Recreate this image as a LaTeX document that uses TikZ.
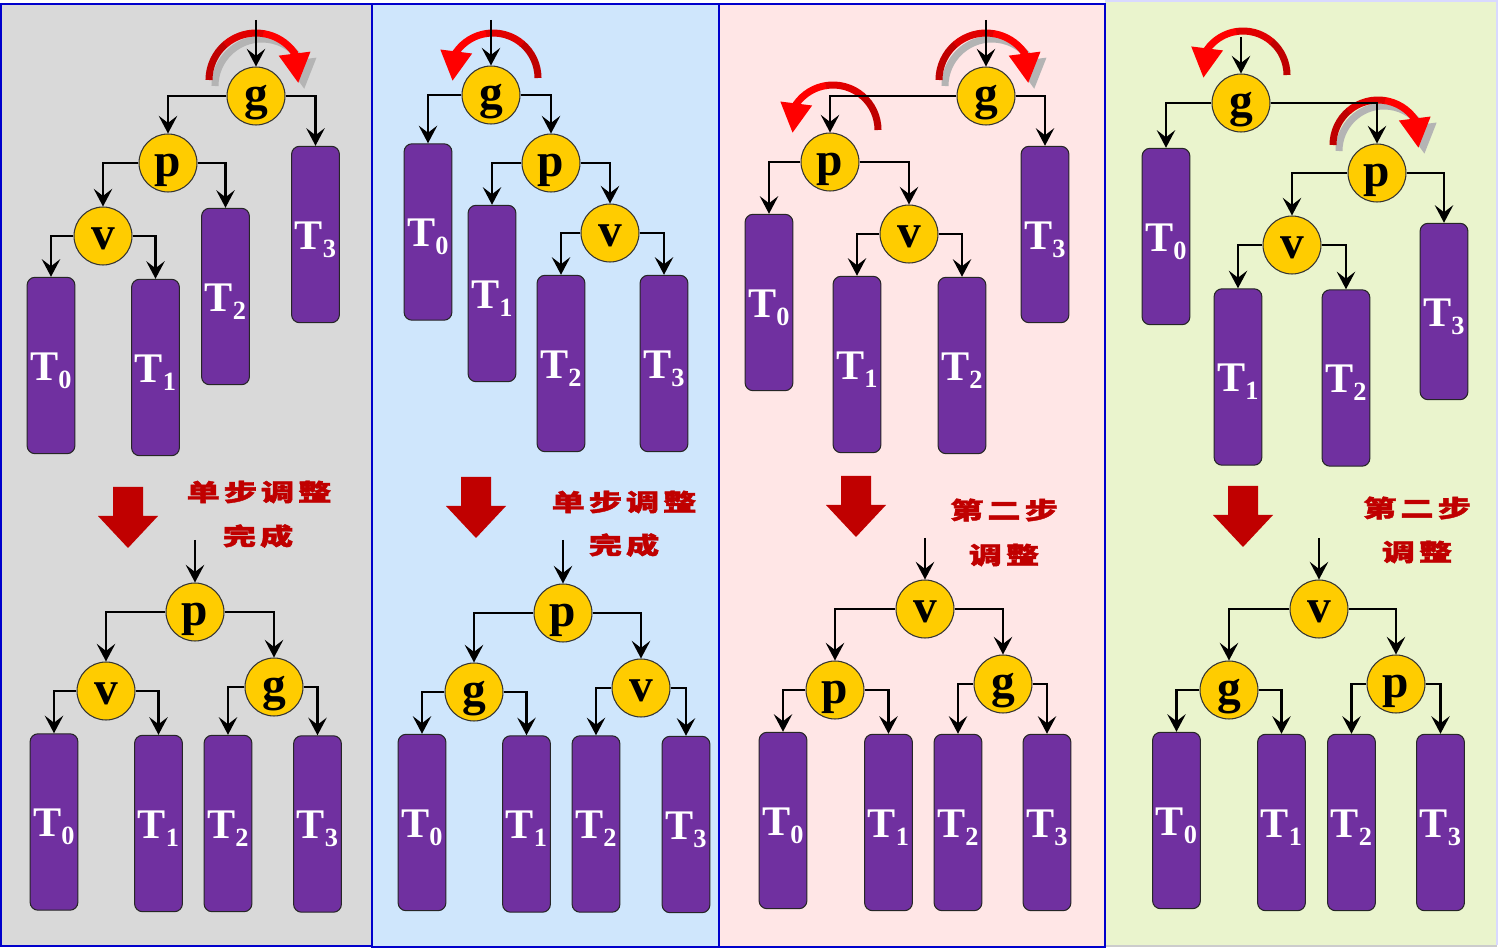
\documentclass[tikz,border=0pt]{standalone}
\usepackage{fontspec}
\usepackage{graphicx}
\setmainfont{Liberation Serif}
\newfontfamily\cjk[LetterSpace=12, BoldFeatures={FakeBold=1.6}]{Noto Sans CJK SC}
\usetikzlibrary{arrows.meta}
\definecolor{pgray}{HTML}{D9D9D9}
\definecolor{pblue}{HTML}{CFE6FC}
\definecolor{ppink}{HTML}{FFE6E6}
\definecolor{pgreen}{HTML}{EAF4CD}
\definecolor{nodeY}{HTML}{FFCC00}
\definecolor{treeP}{HTML}{7030A0}
\definecolor{bigred}{HTML}{C00000}
\definecolor{bord}{HTML}{0000CC}
\definecolor{redA}{HTML}{C00000}
\definecolor{redB}{HTML}{E00000}
\definecolor{redC}{HTML}{FF0000}
\definecolor{shad}{HTML}{B4B4B4}
\newcommand\Tlab[1]{T\raisebox{-4.5pt}{\fontsize{15}{15}\selectfont #1}}
\newcommand\BigDown[2]{\fill[bigred] (#1-15,#2) -- (#1+15,#2) -- (#1+15,#2+29) -- (#1+30,#2+29) -- (#1,#2+61) -- (#1-30,#2+29) -- (#1-15,#2+29) -- cycle;}
% clockwise: left end over the top to an arrowhead on the right
\newcommand\RotCW[3]{%
 \draw[rotshadow] (#1+6,#2+6) ++(180:#3) arc[start angle=180,end angle=325,radius=#3] -- (#1+6+0.9*#3,#2+6+0.07*#3);
 \draw[rotA] (#1,#2) ++(180:#3) arc[start angle=180,end angle=230,radius=#3];
 \draw[rotB] (#1,#2) ++(229:#3) arc[start angle=229,end angle=280,radius=#3];
 \draw[rotC] (#1,#2) ++(279:#3) arc[start angle=279,end angle=325,radius=#3] -- (#1+0.9*#3,#2+0.07*#3);}
% counter-clockwise: right end over the top to an arrowhead on the left
\newcommand\RotCCW[3]{%
 \draw[rotA] (#1,#2) ++(0:#3) arc[start angle=0,end angle=-50,radius=#3];
 \draw[rotB] (#1,#2) ++(-49:#3) arc[start angle=-49,end angle=-100,radius=#3];
 \draw[rotC] (#1,#2) ++(-99:#3) arc[start angle=-99,end angle=-145,radius=#3] -- (#1-0.9*#3,#2+0.07*#3);}
\begin{document}
\begin{tikzpicture}[x=0.02cm,y=-0.02cm,
  circ/.style={circle, fill=nodeY, draw=black!80, line width=0.6pt, minimum size=33pt, inner sep=0pt,
    font=\bfseries\fontsize{27}{27}\selectfont, text height=15pt, text depth=0pt},
  tree/.style={rectangle, rounded corners=4.5pt, fill=treeP, draw=black!85, line width=0.6pt,
    minimum width=27.2pt, minimum height=100.4pt, inner sep=0pt, text=white,
    font=\bfseries\fontsize{24}{24}\selectfont, text height=17pt, text depth=0pt},
  conn/.style={line width=1.6pt, -{Stealth[length=10pt,width=10.5pt,inset=4pt]}},
  rotshadow/.style={draw=shad, line width=4pt, -{Triangle[length=17pt,width=17pt]}},
  rotA/.style={draw=redA, line width=4pt},
  rotB/.style={draw=redB, line width=4pt},
  rotC/.style={draw=redC, line width=4pt, -{Triangle[length=17pt,width=17pt]}},
  lab/.style={text=bigred, font=\cjk\bfseries\fontsize{18}{18}\selectfont, inner sep=0pt}
]
\useasboundingbox (0,0) rectangle (1499,949);
\fill[white] (0,0) rectangle (1499,949);
% panels
\fill[pgreen] (1105,1) rectangle (1497,945);
\draw[draw=blue!15, line width=1pt] (1105,1) -- (1497,1) -- (1497,945);
\draw[draw=black!20, line width=1pt] (1105,946) -- (1497,946);
\filldraw[fill=pgray, draw=bord, line width=1.1pt] (1,4) rectangle (372,946);
\filldraw[fill=pblue, draw=bord, line width=1.1pt] (372,4) rectangle (719,947);
\filldraw[fill=ppink, draw=bord, line width=1.1pt] (719,4) rectangle (1105,947);

% rotation arrows
\RotCW{256}{80}{47}
\RotCCW{493}{78}{45}
\RotCW{986}{80}{47}
\RotCCW{833}{130}{45}
\RotCCW{1243}{75}{44}
\RotCW{1378}{145}{45}

% big down arrows
\BigDown{128}{487}
\BigDown{476}{477}
\BigDown{856}{476}
\BigDown{1243}{486}

% labels
\node[lab] (l1a) at (259,492) {\scalebox{1.05}[0.75]{单步调整}};
\node[lab] (l1b) at (258,536) {\scalebox{1.05}[0.75]{完成}};
\node[lab] (l2a) at (624,502) {\scalebox{1.05}[0.75]{单步调整}};
\node[lab] (l2b) at (624,545) {\scalebox{1.05}[0.75]{完成}};
\node[lab] (l3a) at (1004,510) {\scalebox{1.05}[0.75]{第二步}};
\node[lab] (l3b) at (1004,555) {\scalebox{1.05}[0.75]{调整}};
\node[lab] (l4a) at (1417,508) {\scalebox{1.05}[0.75]{第二步}};
\node[lab] (l4b) at (1417,552) {\scalebox{1.05}[0.75]{调整}};

% ---------- panel 1 top
\node[circ] (g1) at (256,96) {g};
\node[circ] (p1) at (168,163) {p};
\node[circ] (v1) at (103,236) {v};
\node[tree] (a0) at (51,365.5) {\Tlab0};
\node[tree] (a1) at (155.5,367.5) {\Tlab1};
\node[tree] (a2) at (225.5,296.5) {\Tlab2};
\node[tree] (a3) at (315.5,234.5) {\Tlab3};
\coordinate (ia) at (256,20);
\draw[conn] (ia) -- (g1);
\draw[conn] (g1.west) -| (p1.north);
\draw[conn] (g1.east) -| (a3.north);
\draw[conn] (p1.west) -| (v1.north);
\draw[conn] (p1.east) -| (a2.north);
\draw[conn] (v1.west) -| (a0.north);
\draw[conn] (v1.east) -| (a1.north);
% ---------- panel 1 bottom
\node[circ] (pb1) at (195,612) {p};
\node[circ] (vb1) at (106,691) {v};
\node[circ] (gb1) at (274,687) {g};
\node[tree] (b0) at (54,822) {\Tlab0};
\node[tree] (b1) at (158.5,823.5) {\Tlab1};
\node[tree] (b2) at (228,823.5) {\Tlab2};
\node[tree] (b3) at (317.5,824) {\Tlab3};
\coordinate (ib) at (195,540);
\draw[conn] (ib) -- (pb1);
\draw[conn] (pb1.west) -| (vb1.north);
\draw[conn] (pb1.east) -| (gb1.north);
\draw[conn] (vb1.west) -| (b0.north);
\draw[conn] (vb1.east) -| (b1.north);
\draw[conn] (gb1.west) -| (b2.north);
\draw[conn] (gb1.east) -| (b3.north);

% ---------- panel 2 top
\node[circ] (g2) at (491,95) {g};
\node[circ] (p2) at (551,163) {p};
\node[circ] (v2) at (610,233) {v};
\node[tree] (c0) at (428,232) {\Tlab0};
\node[tree] (c1) at (492,293.5) {\Tlab1};
\node[tree] (c2) at (561,363.5) {\Tlab2};
\node[tree] (c3) at (664,363.5) {\Tlab3};
\coordinate (ic) at (491,20);
\draw[conn] (ic) -- (g2);
\draw[conn] (g2.west) -| (c0.north);
\draw[conn] (g2.east) -| (p2.north);
\draw[conn] (p2.west) -| (c1.north);
\draw[conn] (p2.east) -| (v2.north);
\draw[conn] (v2.west) -| (c2.north);
\draw[conn] (v2.east) -| (c3.north);
% ---------- panel 2 bottom
\node[circ] (pb2) at (563,613) {p};
\node[circ] (gb2) at (474,692) {g};
\node[circ] (vb2) at (641,688) {v};
\node[tree] (d0) at (422,822.5) {\Tlab0};
\node[tree] (d1) at (526.5,824) {\Tlab1};
\node[tree] (d2) at (596,824) {\Tlab2};
\node[tree] (d3) at (686,824.5) {\Tlab3};
\coordinate (id) at (563,540);
\draw[conn] (id) -- (pb2);
\draw[conn] (pb2.west) -| (gb2.north);
\draw[conn] (pb2.east) -| (vb2.north);
\draw[conn] (gb2.west) -| (d0.north);
\draw[conn] (gb2.east) -| (d1.north);
\draw[conn] (vb2.west) -| (d2.north);
\draw[conn] (vb2.east) -| (d3.north);

% ---------- panel 3 top
\node[circ] (g3) at (986,96) {g};
\node[circ] (p3) at (830,162) {p};
\node[circ] (v3) at (909,234) {v};
\node[tree] (e0) at (769,302.5) {\Tlab0};
\node[tree] (e1) at (857,364.5) {\Tlab1};
\node[tree] (e2) at (962,365.5) {\Tlab2};
\node[tree] (e3) at (1045,234.5) {\Tlab3};
\coordinate (ie) at (986,20);
\draw[conn] (ie) -- (g3);
\draw[conn] (g3.west) -| (p3.north);
\draw[conn] (g3.east) -| (e3.north);
\draw[conn] (p3.west) -| (e0.north);
\draw[conn] (p3.east) -| (v3.north);
\draw[conn] (v3.west) -| (e1.north);
\draw[conn] (v3.east) -| (e2.north);
% ---------- panel 3 bottom
\node[circ] (vb3) at (925,609) {v};
\node[circ] (pb3) at (835,690) {p};
\node[circ] (gb3) at (1003,684) {g};
\node[tree] (f0) at (783,820.5) {\Tlab0};
\node[tree] (f1) at (888.5,822.5) {\Tlab1};
\node[tree] (f2) at (958,822.5) {\Tlab2};
\node[tree] (f3) at (1047,822.5) {\Tlab3};
\coordinate (if) at (925,538);
\draw[conn] (if) -- (vb3);
\draw[conn] (vb3.west) -| (pb3.north);
\draw[conn] (vb3.east) -| (gb3.north);
\draw[conn] (pb3.west) -| (f0.north);
\draw[conn] (pb3.east) -| (f1.north);
\draw[conn] (gb3.west) -| (f2.north);
\draw[conn] (gb3.east) -| (f3.north);

% ---------- panel 4 top
\node[circ] (g4) at (1241,103) {g};
\node[circ] (p4) at (1377,173) {p};
\node[circ] (v4) at (1292,245) {v};
\node[tree] (h0) at (1166,236.5) {\Tlab0};
\node[tree] (h1) at (1238,377) {\Tlab1};
\node[tree] (h2) at (1346,378) {\Tlab2};
\node[tree] (h3) at (1444,311.5) {\Tlab3};
\coordinate (ih) at (1241,37);
\draw[conn] (ih) -- (g4);
\draw[conn] (g4.west) -| (h0.north);
\draw[conn] (g4.east) -| (p4.north);
\draw[conn] (p4.west) -| (v4.north);
\draw[conn] (p4.east) -| (h3.north);
\draw[conn] (v4.west) -| (h1.north);
\draw[conn] (v4.east) -| (h2.north);
% ---------- panel 4 bottom
\node[circ] (vb4) at (1319,609) {v};
\node[circ] (gb4) at (1229,690) {g};
\node[circ] (pb4) at (1396,684) {p};
\node[tree] (k0) at (1176.5,820.5) {\Tlab0};
\node[tree] (k1) at (1281.5,822.5) {\Tlab1};
\node[tree] (k2) at (1351.5,822.5) {\Tlab2};
\node[tree] (k3) at (1440.5,822.5) {\Tlab3};
\coordinate (ik) at (1319,538);
\draw[conn] (ik) -- (vb4);
\draw[conn] (vb4.west) -| (gb4.north);
\draw[conn] (vb4.east) -| (pb4.north);
\draw[conn] (gb4.west) -| (k0.north);
\draw[conn] (gb4.east) -| (k1.north);
\draw[conn] (pb4.west) -| (k2.north);
\draw[conn] (pb4.east) -| (k3.north);
\end{tikzpicture}
\end{document}
